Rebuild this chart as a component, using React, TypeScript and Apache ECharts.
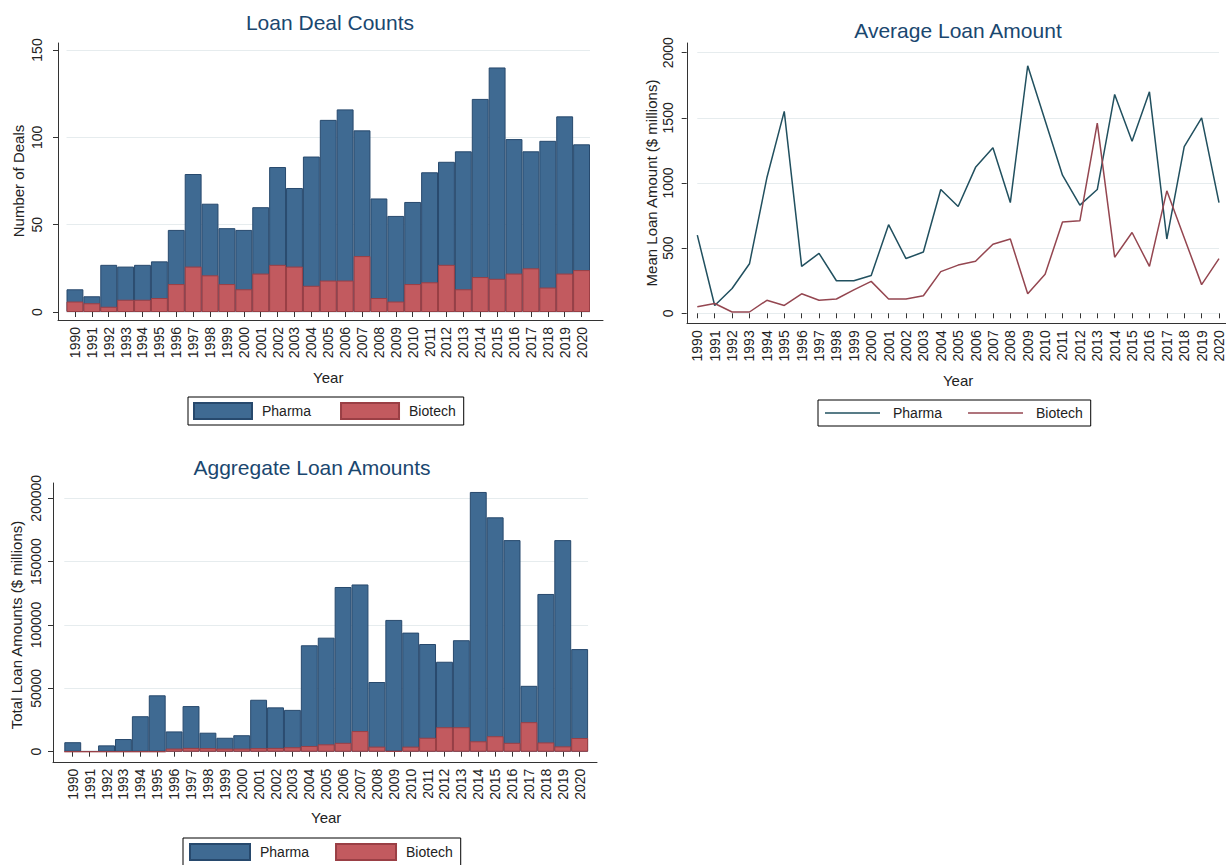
import React, { useEffect, useRef } from 'react';
import * as echarts from 'echarts';

const years = ['1990','1991','1992','1993','1994','1995','1996','1997','1998','1999','2000','2001','2002','2003','2004','2005','2006','2007','2008','2009','2010','2011','2012','2013','2014','2015','2016','2017','2018','2019','2020'];

const dealPharma = [13,9,27,26,27,29,47,79,62,48,47,60,83,71,89,110,116,104,65,55,63,80,86,92,122,140,99,92,98,112,96];
const dealBiotech = [6,5,3,7,7,8,16,26,21,16,13,22,27,26,15,18,18,32,8,6,16,17,27,13,20,19,22,25,14,22,24];

const meanPharma = [600,60,190,380,1040,1550,360,460,250,250,290,680,420,470,950,820,1120,1270,850,1900,1480,1060,830,950,1680,1320,1700,570,1280,1500,850];
const meanBiotech = [50,75,10,10,100,60,150,100,110,180,245,110,110,135,320,370,400,530,570,150,300,700,710,1460,430,620,360,940,580,220,420];

const totalPharma = [7500,400,5000,10000,28000,44500,16000,36000,15000,11000,13000,41000,35000,33000,84000,90000,130000,132000,55000,104000,94000,85000,71000,88000,205000,185000,167000,52000,124500,167000,81000];
const totalBiotech = [0,0,0,0,0,0,2500,3000,2800,2500,2500,2800,3000,3500,4500,5800,7000,16300,4000,500,4000,11000,19300,19300,8200,12200,7000,23300,7300,4200,10800];

const FONT = "'Liberation Sans', Arial, Helvetica, sans-serif";
const PHARMA_BAR = '#3f6a92';
const PHARMA_EDGE = '#27496d';
const BIOTECH_BAR = '#c25a5f';
const BIOTECH_EDGE = '#9a3f45';
const PHARMA_LINE = '#21505f';
const BIOTECH_LINE = '#944650';
const TITLE = '#1a476f';
const TEXT = '#222222';
const AXIS = '#333333';
const GRIDLINE = '#e6ecee';

function frameX(gridIndex: number) {
  return {
    gridIndex, type: 'value', min: 0, max: 1,
    axisLine: { show: true, onZero: false, lineStyle: { color: AXIS, width: 1 } },
    axisTick: { show: false }, axisLabel: { show: false }, splitLine: { show: false },
  };
}
function frameY(gridIndex: number) {
  return {
    gridIndex, type: 'value', min: 0, max: 1,
    axisLine: { show: true, onZero: false, lineStyle: { color: AXIS, width: 1 } },
    axisTick: { show: false }, axisLabel: { show: false }, splitLine: { show: false },
  };
}
function mainX(gridIndex: number, offset: number, boundaryGap: boolean, nameGap: number) {
  return {
    gridIndex, type: 'category', data: years, boundaryGap, offset,
    axisLine: { show: false },
    axisTick: { show: true, alignWithLabel: true, length: 5, lineStyle: { color: AXIS } },
    axisLabel: { rotate: 90, margin: 7, interval: 0, fontSize: 14, color: TEXT, fontFamily: FONT },
    name: 'Year', nameLocation: 'middle', nameGap,
    nameTextStyle: { fontSize: 15, color: TEXT, fontFamily: FONT },
    splitLine: { show: false },
  };
}
function mainY(gridIndex: number, offset: number, max: number, interval: number, name: string, nameGap: number, margin: number) {
  return {
    gridIndex, type: 'value', min: 0, max, interval, offset,
    axisLine: { show: false },
    axisTick: { show: true, length: 5, lineStyle: { color: AXIS } },
    axisLabel: {
      rotate: 90, margin, fontSize: 14, color: TEXT, fontFamily: FONT,
      formatter: (v: number) => String(v),
    },
    splitLine: { show: true, lineStyle: { color: GRIDLINE, width: 1 } },
    name, nameLocation: 'middle', nameGap,
    nameTextStyle: { fontSize: 15, color: TEXT, fontFamily: FONT },
  };
}
function barSeries(name: string, data: number[], axis: number, color: string, edge: string) {
  return {
    name, type: 'bar', data, xAxisIndex: axis, yAxisIndex: axis,
    barWidth: '100%', barGap: '-100%', clip: false,
    itemStyle: { color, borderColor: edge, borderWidth: 1 },
  };
}
function lineSeries(name: string, data: number[], axis: number, color: string) {
  return {
    name, type: 'line', data, xAxisIndex: axis, yAxisIndex: axis,
    symbol: 'none', showSymbol: false,
    lineStyle: { color, width: 1.5 }, itemStyle: { color },
  };
}
function legendBox(names: string[], left: number, top: number, iw: number, ih: number, gap: number, textPad: number, padding: number[]) {
  return {
    data: names, left, top, orient: 'horizontal', selectedMode: false,
    formatter: (n: string) => n.split(' ')[0],
    icon: 'rect', itemWidth: iw, itemHeight: ih, itemGap: gap,
    padding, borderColor: '#000', borderWidth: 1, backgroundColor: '#fff',
    textStyle: { fontSize: 14, color: TEXT, fontFamily: FONT, padding: [0, 0, 0, textPad] },
  };
}
function titleText(text: string, x: number, y: number) {
  return {
    type: 'text', x, y,
    style: { text, fill: TITLE, font: `21px ${FONT}`, align: 'center', verticalAlign: 'middle' },
  };
}

export default function App() {
  const ref = useRef<HTMLDivElement>(null);
  useEffect(() => {
    if (!ref.current) return;
    const chart = echarts.init(ref.current, null, { renderer: 'svg' });
    chart.setOption({
      animation: false,
      backgroundColor: '#ffffff',
      graphic: [
        titleText('Loan Deal Counts', 330, 22),
        titleText('Average Loan Amount', 958, 30),
        titleText('Aggregate Loan Amounts', 312, 467),
      ],
      grid: [
        { left: 58, top: 43, width: 545, height: 277 },
        { left: 66.5, top: 50, width: 523.5, height: 262 },
        { left: 687, top: 43, width: 539, height: 280 },
        { left: 697.3, top: 52.7, width: 522.7, height: 260.6 },
        { left: 53, top: 483, width: 544, height: 279 },
        { left: 64.3, top: 498.3, width: 523.8, height: 253.4 },
      ],
      xAxis: [
        frameX(0), mainX(1, 8, true, 50),
        frameX(2), mainX(3, 10, false, 50),
        frameX(4), mainX(5, 10, true, 48),
      ],
      yAxis: [
        frameY(0), mainY(1, 8.5, 150, 50, 'Number of Deals', 32, 14),
        frameY(2), mainY(3, 10.6, 2000, 500, 'Mean Loan Amount ($ millions)', 28, 12),
        frameY(4), mainY(5, 11.3, 200000, 50000, 'Total Loan Amounts ($ millions)', 29, 10),
      ],
      legend: [
        legendBox(['Pharma (count)', 'Biotech (count)'], 188, 397, 58, 16, 29, 5, [5, 8, 5, 5]),
        legendBox(['Pharma (mean)', 'Biotech (mean)'], 818, 400, 55, 1.5, 26, 8, [6, 8, 6, 7]),
        legendBox(['Pharma (total)', 'Biotech (total)'], 183, 838, 60, 16, 26, 5, [5, 8, 5, 6]),
      ],
      series: [
        barSeries('Pharma (count)', dealPharma, 1, PHARMA_BAR, PHARMA_EDGE),
        barSeries('Biotech (count)', dealBiotech, 1, BIOTECH_BAR, BIOTECH_EDGE),
        lineSeries('Pharma (mean)', meanPharma, 3, PHARMA_LINE),
        lineSeries('Biotech (mean)', meanBiotech, 3, BIOTECH_LINE),
        barSeries('Pharma (total)', totalPharma, 5, PHARMA_BAR, PHARMA_EDGE),
        barSeries('Biotech (total)', totalBiotech, 5, BIOTECH_BAR, BIOTECH_EDGE),
      ],
    });
    return () => chart.dispose();
  }, []);
  return (
    <div
      ref={ref}
      style={{ position: 'fixed', left: 0, top: 0, width: 1226, height: 865, background: '#fff' }}
    />
  );
}
